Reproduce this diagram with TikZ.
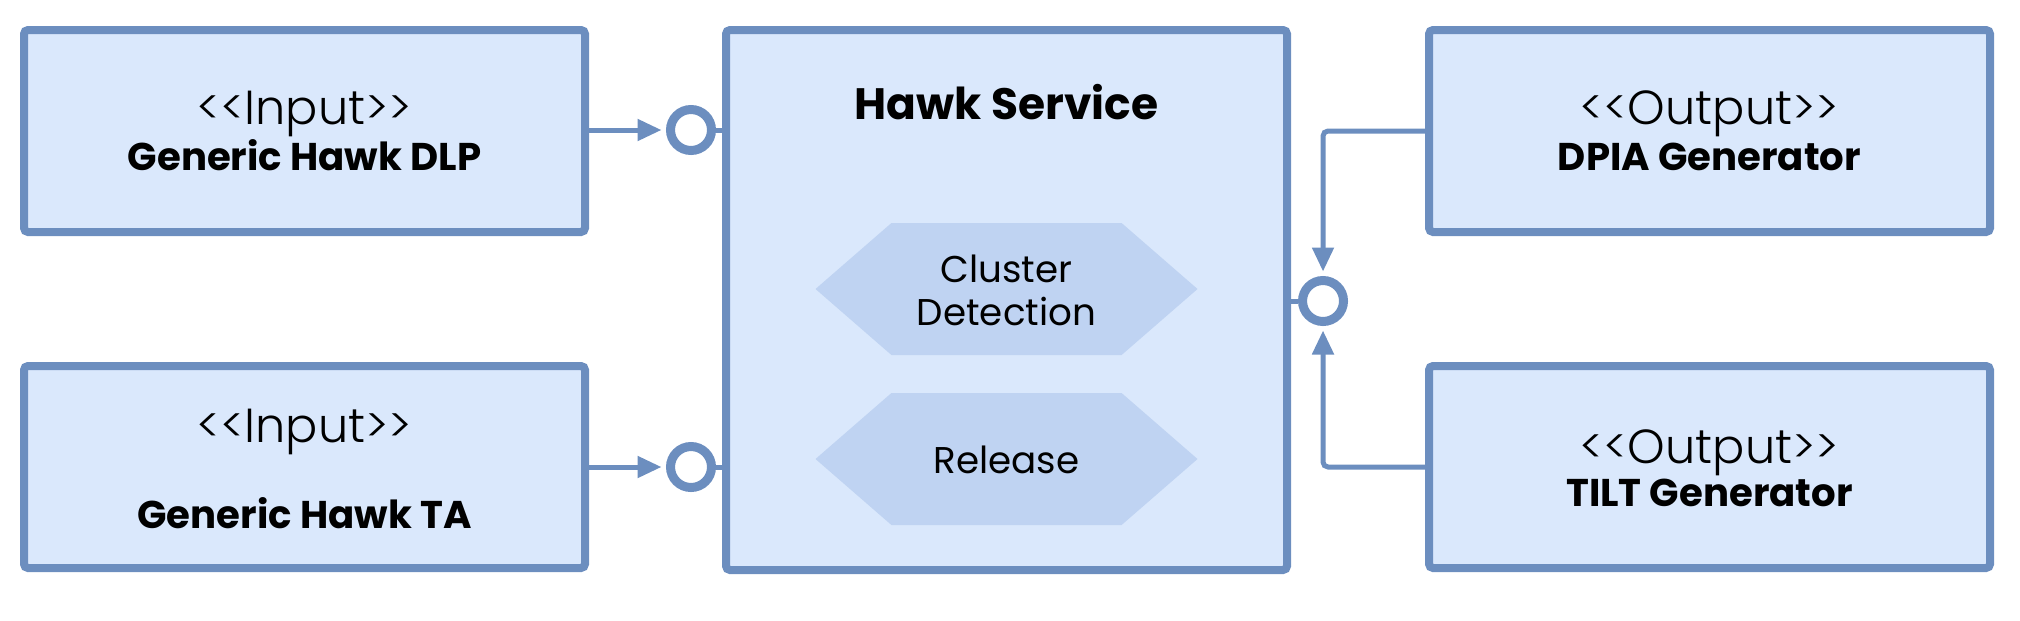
\documentclass[tikz,border=0pt]{standalone}
\usepackage{fontspec}
\setmainfont{Poppins}
\newfontfamily\stereofont{Poppins Light}
\usetikzlibrary{arrows.meta,shapes.symbols,positioning}

\definecolor{hawkline}{HTML}{6C8EBF}
\definecolor{hawkfill}{HTML}{DAE8FC}
\definecolor{hexfill}{HTML}{BFD3F2}

\tikzset{
  comp/.style={draw=hawkline, fill=hawkfill, line width=0.8mm, rounded corners=0.4mm,
    minimum width=56.1mm, minimum height=20.2mm, inner sep=0pt},
  lolli/.style={circle, draw=hawkline, fill=white, line width=0.9mm,
    minimum size=4.1mm, inner sep=0pt},
  wire/.style={draw=hawkline, line width=0.5mm},
  tip/.style={-{Triangle[length=2.4mm,width=2.1mm]}, shorten >=0.45mm},
  hexa/.style={signal, signal to=east and west, signal pointer angle=82,
    fill=hexfill, minimum width=38.2mm, minimum height=13.2mm, inner sep=0pt},
  hextext/.style={anchor=base, font=\fontsize{10.6}{12}\selectfont},
  stereo/.style={anchor=base, inner sep=1pt, font=\fontsize{13.6}{15}\stereofont},
  cname/.style={anchor=base, inner sep=1pt, font=\fontsize{11}{13}\selectfont\bfseries},
}

\begin{document}
\begin{tikzpicture}[x=0.1mm, y=-0.1mm]
  \useasboundingbox (0,0) rectangle (2020,620);

  % 组件框
  \node[comp] (dlp) at (304.5,131) {};
  \node[comp] (ta) at (304.5,467) {};
  \node[comp, minimum height=54mm] (hawk) at (1006.5,300) {};
  \node[comp] (dpia) at (1709.5,131) {};
  \node[comp] (tilt) at (1709.5,467) {};

  % 框内文字（按基线放置）
  \node[stereo] (dlps) at (304.5,124) {<{}<Input>{}>};
  \node[cname] (dlpn) at (304.5,170) {Generic Hawk DLP};
  \node[stereo] (tas) at (304.5,442) {<{}<Input>{}>};
  \node[cname] (tan) at (304.5,528) {Generic Hawk TA};
  \node[stereo] (dpias) at (1709.5,124) {<{}<Output>{}>};
  \node[cname] (dpian) at (1709.5,170) {DPIA Generator};
  \node[stereo] (tilts) at (1709.5,463) {<{}<Output>{}>};
  \node[cname] (tiltn) at (1709.5,506) {TILT Generator};
  \node[anchor=base, font=\fontsize{12.5}{14}\selectfont\bfseries] (hawkn) at (1006.5,119) {Hawk Service};

  % 内部六边形
  \node[hexa] (clus) at (1006.5,289) {};
  \node[hexa] (rel) at (1006.5,459) {};
  \node[hextext] (clust) at (1006.5,282) {Cluster};
  \node[hextext] (clusd) at (1006.5,325) {Detection};
  \node[hextext] (relt) at (1006.5,473) {Release};

  % 接口圆圈
  \node[lolli] (inA) at (691,130) {};
  \node[lolli] (inB) at (691,467) {};
  \node[lolli] (outR) at (1323,301) {};

  % 连线
  \draw[wire, tip] (dlp.east |- inA) -- (inA.west);
  \draw[wire, tip] (ta.east |- inB) -- (inB.west);
  \draw[wire] (inA.east) -- (inA.east -| hawk.west);
  \draw[wire] (inB.east) -- (inB.east -| hawk.west);
  \draw[wire] (outR.west) -- (outR.west -| hawk.east);
  \draw[wire, tip, rounded corners=0.5mm] (dpia.west) -| (outR.north);
  \draw[wire, tip, rounded corners=0.5mm] (tilt.west) -| (outR.south);
\end{tikzpicture}
\end{document}
